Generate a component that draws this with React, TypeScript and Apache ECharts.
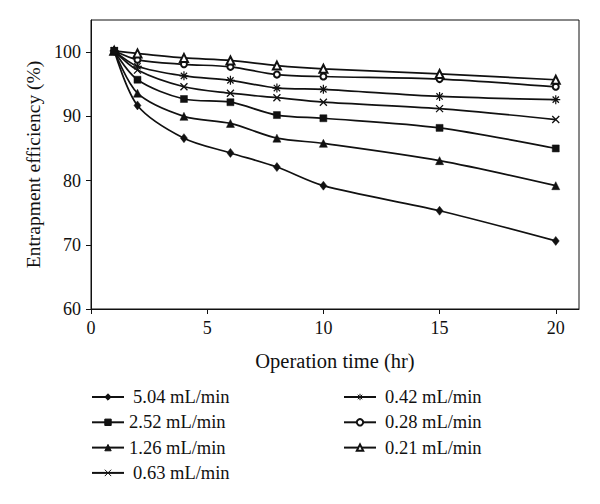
import React, { useEffect, useRef } from "react";
import * as echarts from "echarts";

const timeHr = [1, 2, 4, 6, 8, 10, 15, 20];
const flow504 = [100.2, 91.7, 86.6, 84.3, 82.1, 79.2, 75.3, 70.6];
const flow252 = [100.2, 95.7, 92.7, 92.2, 90.2, 89.7, 88.2, 85.0];
const flow126 = [100.2, 93.6, 90.0, 88.9, 86.6, 85.8, 83.1, 79.2];
const flow063 = [100.2, 97.2, 94.6, 93.6, 92.9, 92.2, 91.2, 89.5];
const flow042 = [100.2, 97.8, 96.3, 95.6, 94.4, 94.2, 93.1, 92.6];
const flow028 = [100.2, 98.8, 98.1, 97.7, 96.5, 96.2, 95.8, 94.6];
const flow021 = [100.2, 99.8, 99.1, 98.7, 97.9, 97.4, 96.6, 95.7];

const seriesNames = [
  "5.04 mL/min",
  "2.52 mL/min",
  "1.26 mL/min",
  "0.63 mL/min",
  "0.42 mL/min",
  "0.28 mL/min",
  "0.21 mL/min",
];
const xTickValues = [0, 5, 10, 15, 20];
const yTickValues = [60, 70, 80, 90, 100];

const FONT = "Liberation Serif";
const INK = "#111";

const CROSS = "path://M0,0L10,10M0,10L10,0";
const STAR = "path://M5,0L5,10M0,5L10,5M1.5,1.5L8.5,8.5M1.5,8.5L8.5,1.5";

export default function App() {
  const ref = useRef<HTMLDivElement>(null);
  useEffect(() => {
    if (!ref.current) return;
    const chart = echarts.init(ref.current, null, { renderer: "svg" });
    const mk = (
      name: string,
      values: number[],
      symbol: string,
      size: number | number[],
      z: number,
      bw: number
    ) => ({
      name,
      type: "line",
      data: timeHr.map((t, i) => [t, values[i]]),
      smooth: 0.3,
      symbol,
      symbolSize: size,
      showAllSymbol: true,
      z,
      lineStyle: { color: INK, width: 1.7 },
      itemStyle: { color: INK, borderColor: INK, borderWidth: bw, opacity: 1 },
      emphasis: { disabled: true },
    });
    const series = [
      mk(seriesNames[0], flow504, "diamond", [7, 9], 2, 0.5),
      mk(seriesNames[2], flow126, "triangle", 8, 2, 0.5),
      mk(seriesNames[3], flow063, CROSS, 7, 2, 1.3),
      mk(seriesNames[4], flow042, STAR, 9, 2, 1.2),
      mk(seriesNames[5], flow028, "emptyCircle", 6, 2, 1.3),
      mk(seriesNames[6], flow021, "emptyTriangle", 8, 2, 1.3),
      mk(seriesNames[1], flow252, "rect", 7, 3, 0.5),
    ];
    const legendBase = {
      orient: "vertical",
      itemWidth: 32,
      itemHeight: 8,
      itemGap: 5.3,
      selectedMode: false,
      itemStyle: { borderWidth: 1 },
      textStyle: {
        fontFamily: FONT,
        fontSize: 18.5,
        color: INK,
        lineHeight: 20,
      },
    };
    const pad = (p: number) => ({ padding: [0, 0, 0, p] });
    chart.setOption({
      animation: false,
      backgroundColor: "#fff",
      grid: {
        left: 91,
        right: 21,
        top: 20,
        bottom: 195,
        show: true,
        borderColor: INK,
        borderWidth: 1,
      },
      legend: [
        {
          ...legendBase,
          left: 86,
          top: 382,
          data: [
            { name: seriesNames[0], textStyle: pad(4) },
            { name: seriesNames[1], textStyle: pad(0) },
            { name: seriesNames[2], textStyle: pad(0) },
            { name: seriesNames[3], textStyle: pad(4) },
          ],
        },
        {
          ...legendBase,
          left: 338,
          top: 382,
          data: [
            { name: seriesNames[4], textStyle: pad(4) },
            { name: seriesNames[5], textStyle: pad(4) },
            { name: seriesNames[6], textStyle: pad(4) },
          ],
        },
      ],
      xAxis: {
        type: "value",
        min: 0,
        max: 21,
        interval: 5,
        name: "Operation time (hr)",
        nameLocation: "middle",
        nameGap: 41,
        nameTextStyle: { fontFamily: FONT, fontSize: 20.5, color: INK },
        axisLine: { show: true, lineStyle: { color: INK, width: 1 } },
        axisTick: {
          show: true,
          length: 5,
          lineStyle: { color: INK },
          customValues: xTickValues,
        },
        axisLabel: {
          fontFamily: FONT,
          fontSize: 18,
          color: INK,
          margin: 10,
          customValues: xTickValues,
        },
        splitLine: { show: false },
      },
      yAxis: {
        type: "value",
        min: 60,
        max: 105,
        interval: 10,
        name: "Entrapment efficiency (%)",
        nameLocation: "middle",
        nameGap: 47,
        nameTextStyle: { fontFamily: FONT, fontSize: 19.5, color: INK },
        axisLine: { show: true, lineStyle: { color: INK, width: 1 } },
        axisTick: {
          show: true,
          length: 5,
          lineStyle: { color: INK },
          customValues: yTickValues,
        },
        axisLabel: {
          fontFamily: FONT,
          fontSize: 18,
          color: INK,
          margin: 10,
          customValues: yTickValues,
        },
        splitLine: { show: false },
      },
      series,
    });
    return () => chart.dispose();
  }, []);
  return (
    <div
      ref={ref}
      style={{ position: "fixed", left: 0, top: 0, width: 600, height: 504 }}
    />
  );
}
